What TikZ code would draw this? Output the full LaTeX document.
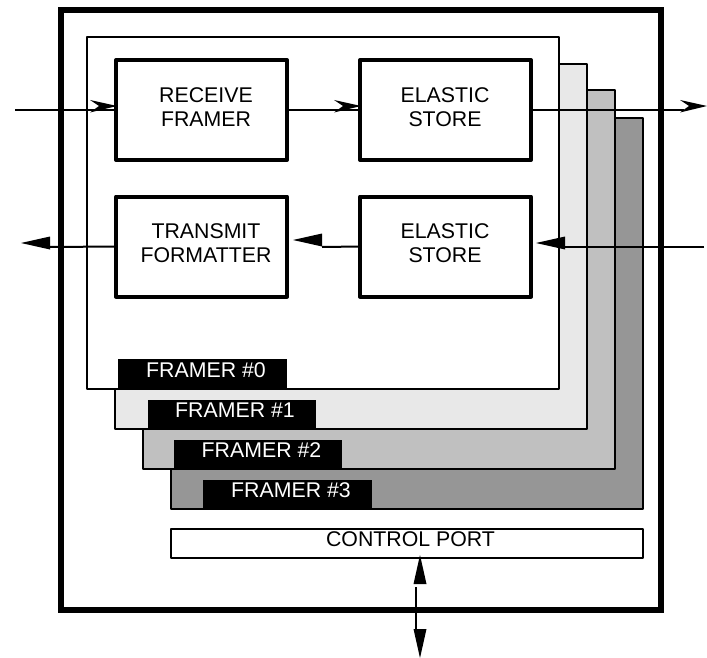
\documentclass[tikz,border=0pt]{standalone}
\usepackage{fontspec}
\setmainfont{Liberation Sans}
\definecolor{lay1}{HTML}{E8E8E8}
\definecolor{lay2}{HTML}{C0C0C0}
\definecolor{lay3}{HTML}{969696}
\newcommand{\rectnode}[6]{\node[#2,minimum width={(#5-#3)*1pt},minimum height={(#6-#4)*1pt}] (#1) at ({(#3+#5)/2},{(#4+#6)/2}) {};}
\newcommand{\barbhead}[3]{\fill[shift={(#1,#2)},rotate=#3] (0,0) -- (-27,-6) -- (-18,0) -- (-27,6.5) -- cycle;}
\newcommand{\solidhead}[3]{\fill[shift={(#1,#2)},rotate=#3] (0,0) -- (-29,-6.5) -- (-29,6.5) -- cycle;}
\tikzset{
  base/.style={rectangle,inner sep=0pt,outer sep=0pt,line join=round},
  chassis/.style={base,draw,line width=5.5pt,line join=miter},
  framer/.style={base,draw,line width=2pt},
  funcbox/.style={base,draw,line width=4pt},
  tag/.style={base,fill=black},
  boxtext/.style={inner sep=0pt,outer sep=0pt,align=center,font=\fontsize{21.3}{24}\selectfont,text=black},
  tagtext/.style={inner sep=0pt,outer sep=0pt,anchor=base,font=\fontsize{21.3}{24}\selectfont,text=white},
  wire/.style={line width=2pt}
}
\begin{document}
\begin{tikzpicture}[x=1pt,y=-1pt]
\useasboundingbox (0,0) rectangle (707,658);
\rectnode{chassis}{chassis}{61}{10}{661}{610}
\rectnode{f3}{framer,fill=lay3}{171}{118}{643}{509}
\rectnode{f2}{framer,fill=lay2}{143}{90}{615}{469}
\rectnode{f1}{framer,fill=lay1}{115}{64}{587}{429}
\rectnode{f0}{framer,fill=white}{87}{37}{559}{389}
\rectnode{t0}{tag}{118}{359}{287}{388}
\rectnode{t1}{tag}{148}{400}{316}{429}
\rectnode{t2}{tag}{173.5}{440}{342}{469}
\rectnode{t3}{tag}{203}{480}{372}{509}
\node[tagtext] (lt0) at (206,377) {FRAMER \#0};
\node[tagtext] (lt1) at (235,417) {FRAMER \#1};
\node[tagtext] (lt2) at (261.5,457) {FRAMER \#2};
\node[tagtext] (lt3) at (291,497) {FRAMER \#3};
\rectnode{rf}{funcbox}{116}{60}{287}{160}
\rectnode{es1}{funcbox}{360}{60}{531}{160}
\rectnode{tf}{funcbox}{116}{196.5}{287}{296.5}
\rectnode{es2}{funcbox}{360}{196.5}{531}{296.5}
\node[boxtext] (lrf) at (206,107.5) {RECEIVE\\FRAMER};
\node[boxtext] (les1) at (445,107.5) {ELASTIC\\STORE};
\node[boxtext] (ltf) at (206,243.5) {TRANSMIT\\FORMATTER};
\node[boxtext] (les2) at (445,243.5) {ELASTIC\\STORE};
\rectnode{port}{framer,fill=white}{171}{529}{643}{558}
\node[tagtext,text=black] (lport) at (410.5,546) {CONTROL PORT};
% connectors
\coordinate (inA) at (15,110);
\coordinate (outA) at (684,110);
\coordinate (inB) at (704,247);
\coordinate (inBend) at (565,247);
\coordinate (outB) at (50,247);
\coordinate (midB) at (322,247);
\coordinate (ctlA) at (416,587);
\coordinate (ctlB) at (416,633);
\draw[wire] (inA) -- (rf.west);
\draw[wire] (rf.east) -- (es1.west);
\draw[wire] (es1.east) -- (outA);
\draw[wire] (inB) -- (inBend);
\draw[wire] (es2.west) -- (midB);
\draw[wire] (tf.west) -- (outB);
\draw[wire] (ctlA) -- (ctlB);
\barbhead{117}{106}{0}
\barbhead{361}{106}{0}
\barbhead{707}{106}{0}
\solidhead{536}{243}{180}
\solidhead{293}{240}{180}
\solidhead{21}{243}{180}
\solidhead{420}{555}{90}
\solidhead{420}{658}{-90}
\end{tikzpicture}
\end{document}
